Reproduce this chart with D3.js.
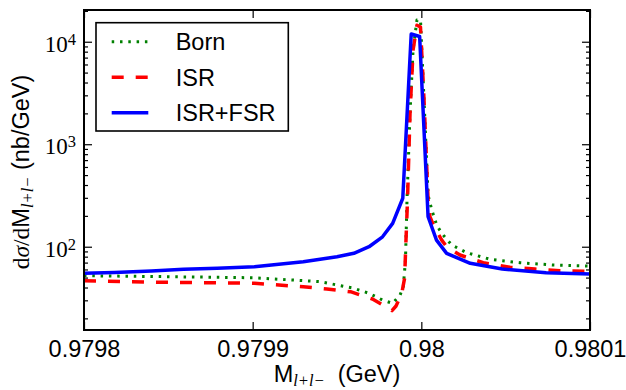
<!DOCTYPE html>
<meta charset="utf-8">
<style>
    body {
        margin: 0;
        background: #fff;
    }

    .sans {
        font-family: "Liberation Sans", Arial, sans-serif;
    }

    .serif {
        font-family: "Liberation Serif", "DejaVu Serif", serif;
    }
</style>

<body>
    <svg width="626" height="390"></svg>

    <script src="https://d3js.org/d3.v7.min.js"></script>
    <script>
        // x ticks
        const xTickValues = [0.9798, 0.9799, 0.98, 0.9801];
        const xTickLabels = ["0.9798", "0.9799", "0.98", "0.9801"];

        // y ticks (log)
        const yTickValues = [1e2, 1e3, 1e4];
        const yTickExponents = ["2", "3", "4"];

        // Born
        const bornMass = [0.979800, 0.979850, 0.979901, 0.979940, 0.979960, 0.979969, 0.979977, 0.979983,
            0.9799874, 0.9799893, 0.9799906, 0.9799915, 0.9799933, 0.9799951, 0.9799974, 0.9799995,
            0.9800016, 0.9800040, 0.9800062, 0.9800091, 0.9800121, 0.9800180, 0.9800269, 0.9800407,
            0.9800585, 0.9800783, 0.9801000];
        const bornValue = [52.1, 51.0, 49.8, 45.6, 39.3, 35.1, 30.2, 28.0,
            33.8, 40.7, 74, 286, 2010, 8300, 16300, 16300,
            2700, 319, 228, 163, 135, 104, 87.4, 75.4,
            69.8, 66.3, 64.8];

        // ISR
        const isrMass = [0.979800, 0.979839, 0.979901, 0.979930, 0.979944, 0.979958, 0.979971, 0.979979,
            0.9799826, 0.9799850, 0.9799884, 0.9799901, 0.9799909, 0.9799918, 0.9799933, 0.9799951,
            0.9799974, 0.9799995, 0.9800016, 0.9800040, 0.9800051, 0.9800071, 0.9800121, 0.9800150,
            0.9800229, 0.9800367, 0.9800526, 0.9800674, 0.9800822, 0.9801000];
        const isrValue = [46.6, 45.2, 44.0, 40.7, 38.6, 36.4, 30.9, 26.0,
            23.8, 26.4, 35.1, 49.5, 116, 286, 2010, 8300,
            14500, 13900, 2700, 286, 196, 163, 116, 100,
            83, 69.8, 63, 60.6, 58.3, 57.5];

        // ISR+FSR
        const fsrMass = [0.979800, 0.979818, 0.979840, 0.979859, 0.979879, 0.979901, 0.979930, 0.979950,
            0.979960, 0.979969, 0.979977, 0.979983, 0.979989, 0.979994, 0.979999, 0.980004,
            0.980009, 0.980015, 0.980029, 0.980048, 0.980074, 0.980100];
        const fsrValue = [55.0, 56.2, 57.9, 60.3, 61.6, 63.8, 71.5, 79.8,
            86.2, 100, 125, 169, 297, 11900, 11250, 196,
            116, 86.2, 68.9, 60.6, 55.7, 54.2];

        const seriesNames = ["Born", "ISR", "ISR+FSR"];

        const styles = {
            "Born": { color: "#008000", dash: "2.5,5.8", width: 3 },
            "ISR": { color: "#ff0000", dash: "12,12", width: 3.5 },
            "ISR+FSR": { color: "#0000ff", dash: null, width: 3.5 }
        };

        const series = [
            { name: "Born", points: bornMass.map((m, i) => ({ m, v: bornValue[i] })) },
            { name: "ISR", points: isrMass.map((m, i) => ({ m, v: isrValue[i] })) },
            { name: "ISR+FSR", points: fsrMass.map((m, i) => ({ m, v: fsrValue[i] })) }
        ];

        const svg = d3.select("svg");
        const width = +svg.attr("width");
        const height = +svg.attr("height");
        const margin = { top: 10, right: 36, bottom: 60, left: 84 };
        const x0 = margin.left, x1 = width - margin.right;
        const y0 = height - margin.bottom, y1 = margin.top;

        const x = d3.scaleLinear()
            .domain([0.9798, 0.9801])
            .range([x0, x1]);

        const y = d3.scaleLog()
            .domain([15.4, 20400])
            .range([y0, y1]);

        svg.append("rect")
            .attr("width", width).attr("height", height)
            .attr("fill", "#fff");

        svg.append("clipPath").attr("id", "plot")
            .append("rect")
            .attr("x", x0).attr("y", y1)
            .attr("width", x1 - x0).attr("height", y0 - y1);

        // curves
        const line = d3.line()
            .x(d => x(d.m))
            .y(d => y(d.v));

        svg.append("g")
            .attr("clip-path", "url(#plot)")
            .selectAll("path")
            .data(series)
            .join("path")
            .attr("fill", "none")
            .attr("stroke", d => styles[d.name].color)
            .attr("stroke-width", d => styles[d.name].width)
            .attr("stroke-dasharray", d => styles[d.name].dash)
            .attr("stroke-linejoin", "round")
            .attr("d", d => line(d.points));

        // minor ticks for log axis
        const minorTicks = [];
        [10, 100, 1000, 10000].forEach(p => {
            for (let k = 2; k <= 9; k++) {
                const v = k * p;
                if (v > y.domain()[0] && v < y.domain()[1]) minorTicks.push(v);
            }
        });

        function styleAxis(g) {
            g.select(".domain").remove();
            g.selectAll(".tick line").attr("stroke", "#000").attr("stroke-width", 1.2);
        }

        // bottom / top
        svg.append("g")
            .attr("transform", `translate(0,${y0})`)
            .call(d3.axisBottom(x).tickValues(xTickValues)
                .tickFormat((d, i) => xTickLabels[i])
                .tickSizeInner(-8).tickSizeOuter(0).tickPadding(10))
            .call(styleAxis)
            .call(g => g.selectAll("text")
                .attr("class", "sans")
                .attr("font-size", 23.5)
                .attr("fill", "#000"));

        svg.append("g")
            .attr("transform", `translate(0,${y1})`)
            .call(d3.axisTop(x).tickValues(xTickValues).tickFormat("")
                .tickSizeInner(-8).tickSizeOuter(0))
            .call(styleAxis);

        // left / right majors
        svg.append("g")
            .attr("transform", `translate(${x0},0)`)
            .call(d3.axisLeft(y).tickValues(yTickValues).tickFormat("")
                .tickSizeInner(-8).tickSizeOuter(0))
            .call(styleAxis);

        svg.append("g")
            .attr("transform", `translate(${x1},0)`)
            .call(d3.axisRight(y).tickValues(yTickValues).tickFormat("")
                .tickSizeInner(-8).tickSizeOuter(0))
            .call(styleAxis);

        // left / right minors
        svg.append("g")
            .attr("transform", `translate(${x0},0)`)
            .call(d3.axisLeft(y).tickValues(minorTicks).tickFormat("")
                .tickSizeInner(-4).tickSizeOuter(0))
            .call(styleAxis);

        svg.append("g")
            .attr("transform", `translate(${x1},0)`)
            .call(d3.axisRight(y).tickValues(minorTicks).tickFormat("")
                .tickSizeInner(-4).tickSizeOuter(0))
            .call(styleAxis);

        // y tick labels 10^n
        const yLabels = svg.append("g")
            .selectAll("text")
            .data(yTickValues)
            .join("text")
            .attr("class", "serif")
            .attr("x", x0 - 8)
            .attr("y", d => y(d) + 10)
            .attr("text-anchor", "end")
            .attr("font-size", 23)
            .attr("fill", "#000");
        yLabels.append("tspan").text("10");
        yLabels.append("tspan")
            .attr("font-size", 16.5)
            .attr("dy", -7)
            .text((d, i) => yTickExponents[i]);

        // frame
        svg.append("rect")
            .attr("x", x0).attr("y", y1)
            .attr("width", x1 - x0).attr("height", y0 - y1)
            .attr("fill", "none")
            .attr("stroke", "#000")
            .attr("stroke-width", 2);

        // x label
        const xLabel = svg.append("text")
            .attr("x", (x0 + x1) / 2)
            .attr("y", 382)
            .attr("text-anchor", "middle")
            .attr("font-size", 23.5)
            .attr("fill", "#000");
        xLabel.append("tspan").attr("class", "sans").text("M");
        xLabel.append("tspan").attr("class", "serif").attr("font-style", "italic")
            .attr("font-size", 16.5).attr("dy", 4).text("l+l\u2212");
        xLabel.append("tspan").attr("class", "sans").attr("dy", -4).text("\u00a0 (GeV)");

        // y label
        const yLabel = svg.append("text")
            .attr("transform", `translate(28.5,${(y0 + y1) / 2 + 2}) rotate(-90)`)
            .attr("text-anchor", "middle")
            .attr("font-size", 23.5)
            .attr("fill", "#000");
        yLabel.append("tspan").attr("class", "serif").text("d");
        yLabel.append("tspan").attr("class", "serif").attr("font-style", "italic").text("\u03c3");
        yLabel.append("tspan").attr("class", "serif").text("/d");
        yLabel.append("tspan").attr("class", "sans").text("M");
        yLabel.append("tspan").attr("class", "serif").attr("font-style", "italic")
            .attr("font-size", 16.5).attr("dy", 4).text("l+l\u2212");
        yLabel.append("tspan").attr("class", "sans").attr("dy", -4).text("\u00a0(nb/GeV)");

        // legend
        const legend = svg.append("g");
        legend.append("rect")
            .attr("x", 96).attr("y", 22.7)
            .attr("width", 192.3).attr("height", 108.3)
            .attr("fill", "#fff")
            .attr("stroke", "#000")
            .attr("stroke-width", 1.6);

        const rowY = d3.scalePoint().domain(seriesNames).range([41.7, 112.7]);

        const rows = legend.selectAll("g.row")
            .data(seriesNames)
            .join("g")
            .attr("class", "row");

        rows.append("line")
            .attr("x1", 111.7).attr("x2", 148.3)
            .attr("y1", d => rowY(d)).attr("y2", d => rowY(d))
            .attr("stroke", d => styles[d].color)
            .attr("stroke-width", d => styles[d].width)
            .attr("stroke-dasharray", d => styles[d].dash);

        rows.append("text")
            .attr("class", "sans")
            .attr("x", 175.7)
            .attr("y", d => rowY(d) + 8.4)
            .attr("font-size", 23.5)
            .attr("fill", "#000")
            .text(d => d);
    </script>
</body>
